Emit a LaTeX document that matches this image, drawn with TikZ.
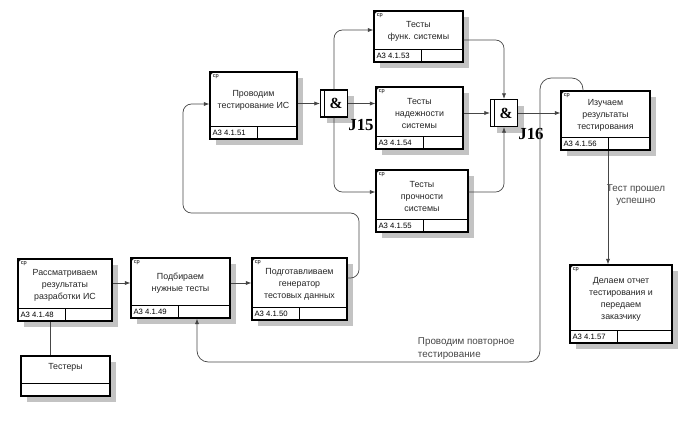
\documentclass[tikz,border=0pt]{standalone}
\usepackage{fontspec}
\setmainfont{Liberation Sans}
\newfontfamily\serifjunc{Liberation Serif}
\usetikzlibrary{arrows.meta, shadows, calc}
\definecolor{shadowgray}{RGB}{195,195,195}
\definecolor{linegray}{RGB}{70,70,70}

% unit of work box: name, centre x, centre y, width, height, text, number
\newcommand{\uow}[7]{%
  \node[uowbox, minimum width=#4*0.025cm, minimum height=#5*0.025cm] (#1) at (#2,#3) {};
  \draw ([yshift=0.33cm]#1.south west) -- ([yshift=0.33cm]#1.south east);
  \draw ([xshift=1.2cm]#1.south west) -- ++(0,-13.2);
  \node[idtext, anchor=west] at ([xshift=1pt,yshift=0.165cm]#1.south west) {#7};
  \node[boxtext] at ([yshift=0.12cm]#1.center) {#6};
  \draw ([yshift=-0.14cm]#1.north west) to[bend left=30] ([xshift=0.14cm]#1.north west);
  \node[cornertext, anchor=north west] at ([xshift=0.08cm,yshift=-0.06cm]#1.north west) {ср};
}
% junction: name, x, y, label
\newcommand{\junc}[4]{%
  \node[juncbox] (#1) at (#2,#3) {};
  \draw ([xshift=0.1cm]#1.south west) -- ([xshift=0.1cm]#1.north west);
  \node[font=\serifjunc\bfseries\fontsize{11}{11}\selectfont] at ([xshift=0.05cm]#1.center) {\&};
  \node[jlabel, anchor=north west] at ([yshift=-1pt]#1.south east) {#4};
}

\begin{document}
\begin{tikzpicture}[x=0.025cm, y=-0.025cm,
    uowbox/.style={draw, line width=0.8pt, fill=white,
      drop shadow={shadow xshift=4.5pt, shadow yshift=-4.5pt, fill=shadowgray, opacity=1}},
    juncbox/.style={uowbox, minimum width=27*0.025cm, minimum height=27*0.025cm},
    boxtext/.style={align=center, text=black!85, font=\fontsize{6.3}{8.5}\selectfont},
    idtext/.style={inner sep=1pt, font=\fontsize{5.5}{6}\selectfont},
    cornertext/.style={inner sep=0pt, font=\fontsize{4}{4}\selectfont},
    jlabel/.style={inner sep=0pt, font=\serifjunc\bfseries\fontsize{12}{12}\selectfont},
    note/.style={align=left, text=linegray, font=\fontsize{7}{9}\selectfont},
    flow/.style={draw=linegray, line width=0.5pt, -{Latex[length=4pt,width=3pt]}}]
  \useasboundingbox (0,0) rectangle (678,422);

  % boxes
  \uow{review}{65}{290}{94}{62}{Рассматриваем\\результаты\\разработки ИС}{А3 4.1.48}
  \uow{select}{180.5}{288}{99}{60}{Подбираем\\нужные тесты}{А3 4.1.49}
  \uow{prepare}{299.5}{289}{95}{62}{Подготавливаем\\генератор\\тестовых данных}{А3 4.1.50}
  \uow{runtest}{253.5}{105.5}{87}{67}{Проводим\\тестирование ИС}{А3 4.1.51}
  \uow{functest}{418.5}{36.5}{89}{51}{Тесты\\функ. системы}{А3 4.1.53}
  \uow{reltest}{419.5}{118}{87}{62}{Тесты\\надежности\\системы}{А3 4.1.54}
  \uow{strtest}{422}{201}{92}{62}{Тесты\\прочности\\системы}{А3 4.1.55}
  \uow{study}{605.5}{120.5}{89}{59}{Изучаем\\результаты\\тестирования}{А3 4.1.56}
  \uow{report}{621}{304}{102}{78}{Делаем отчет\\тестирования и\\передаем\\заказчику}{А3 4.1.57}

  \node[uowbox, minimum width=89*0.025cm, minimum height=40*0.025cm] (testers) at (65.5,376) {};
  \draw ([yshift=0.33cm]testers.south west) -- ([yshift=0.33cm]testers.south east);
  \node[boxtext, anchor=north] at ([yshift=-2pt]testers.north) {Тестеры};

  % junctions
  \junc{J15}{334}{103.5}{J15}
  \junc{J16}{504}{113}{J16}

  % links
  \draw[flow] (review.east |- 0,283) -- (select.west |- 0,283);
  \draw[flow] (select.east |- 0,283) -- (prepare.west |- 0,283);
  \draw[flow, rounded corners=6] (prepare.east |- 0,278) -- (359,278) -- (359,213)
    -- (183,213) -- (183,104) -- (runtest.west |- 0,104);
  \draw[flow] (runtest.east |- J15.west) -- (J15.west);
  \draw[flow, rounded corners=6] (J15.north) |- (functest.west |- 0,30);
  \draw[flow] (J15.east) -- (reltest.west |- J15.east);
  \draw[flow, rounded corners=6] (J15.south) |- (strtest.west |- 0,192);
  \draw[flow, rounded corners=6] (functest.east |- 0,40) -| (J16.north);
  \draw[flow] (reltest.east |- J16.west) -- (J16.west);
  \draw[flow, rounded corners=6] (strtest.east |- 0,192) -| (J16.south);
  \draw[flow] (J16.east) -- (study.west |- J16.east);
  \draw[flow, rounded corners=8] (study.north -| 583,0) -- (583,78) -- (540,78)
    -- (540,362) -- (197,362) -- (select.south -| 197,0);
  \node[note, anchor=north west] at (413,333) {Проводим повторное\\тестирование};
  \draw[flow] (study.south -| 608,0) -- (report.north -| 608,0);
  \node[note, align=center] at (636,195) {Тест прошел\\успешно};
  \draw[linegray, line width=0.5pt] (review.south -| 50,0) -- (testers.north -| 50,0);
\end{tikzpicture}
\end{document}
